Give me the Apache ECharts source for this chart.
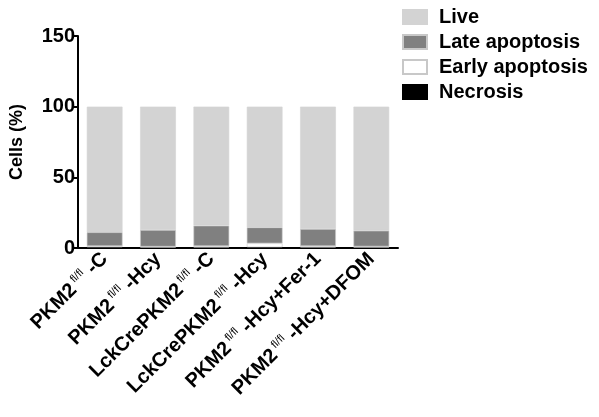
<!DOCTYPE html>
<html>
<head>
<meta charset="utf-8">
<script src="https://cdn.jsdelivr.net/npm/echarts@6/dist/echarts.min.js"></script>
<style>
  html, body { margin: 0; padding: 0; background: #fff; }
  #chart { width: 599px; height: 417px; }
</style>
</head>
<body>
<div id="chart"></div>
<script>
// groups on the x axis (the text after the superscript)
const groups = ['PKM2|-C', 'PKM2|-Hcy', 'LckCrePKM2|-C', 'LckCrePKM2|-Hcy', 'PKM2|-Hcy+Fer-1', 'PKM2|-Hcy+DFOM']
const necrosis = [0.5, 0.3, 0.4, 0.5, 0.4, 0.3]
const earlyApoptosis = [0.9, 0.7, 1.0, 2.8, 1.0, 0.8]
const lateApoptosis = [9.7, 11.7, 14.4, 11.3, 12.0, 11.1]
const live = [88.9, 87.3, 84.2, 85.4, 86.6, 87.8]
const yTicks = [0, 50, 100, 150]

const chart = echarts.init(document.getElementById('chart'))

const font = 'Liberation Sans, Arial, sans-serif'

// 堆叠柱通用样式
const barStyle = (name, data, color, border) => ({
  name: name,
  type: 'bar',
  stack: 'cells',
  data: data,
  barCategoryGap: '33%',
  itemStyle: {
    color: color,
    borderColor: border,
    borderWidth: 0.6
  }
})

chart.setOption({
  animation: false,
  textStyle: { fontFamily: font },
  grid: {
    left: 77,
    right: 201,
    top: 36,
    bottom: 169
  },
  legend: {
    data: ['Live', 'Late apoptosis', 'Early apoptosis', 'Necrosis'],
    orient: 'vertical',
    left: 397,
    top: 2,
    itemWidth: 24,
    itemHeight: 14,
    itemGap: 5,
    icon: 'rect',
    textStyle: {
      fontFamily: font,
      fontSize: 20,
      fontWeight: 'bold',
      color: '#000',
      lineHeight: 20,
      padding: [0, 0, 0, 7]
    }
  },
  xAxis: {
    type: 'category',
    data: groups,
    axisLine: { lineStyle: { color: '#000', width: 2 } },
    axisTick: {
      alignWithLabel: true,
      length: 6,
      lineStyle: { color: '#000', width: 2 }
    },
    axisLabel: {
      interval: 0,
      rotate: 45,
      margin: 8,
      formatter: v => {
        const parts = v.split('|')
        return '{b|' + parts[0] + '}{s|fl/fl}{b| ' + parts[1] + '}'
      },
      rich: {
        b: {
          fontFamily: font,
          fontSize: 20,
          fontWeight: 'bold',
          color: '#000',
          lineHeight: 22
        },
        s: {
          fontFamily: font,
          fontSize: 11,
          color: '#000',
          verticalAlign: 'top',
          padding: [0, 0, 8, 3]
        }
      }
    }
  },
  yAxis: {
    type: 'value',
    min: yTicks[0],
    max: yTicks[yTicks.length - 1],
    interval: 50,
    name: 'Cells (%)',
    nameLocation: 'middle',
    nameGap: 52,
    nameTextStyle: {
      fontFamily: font,
      fontSize: 18,
      fontWeight: 'bold',
      color: '#000'
    },
    splitLine: { show: false },
    axisLine: { show: true, lineStyle: { color: '#000', width: 2 } },
    axisTick: { show: true, length: 5, lineStyle: { color: '#000', width: 2 } },
    axisLabel: {
      margin: 3,
      fontFamily: font,
      fontSize: 20,
      fontWeight: 'bold',
      color: '#000'
    }
  },
  series: [
    barStyle('Necrosis', necrosis, '#000000', '#000000'),
    barStyle('Early apoptosis', earlyApoptosis, '#ffffff', '#c8c8c8'),
    barStyle('Late apoptosis', lateApoptosis, '#808080', '#c8c8c8'),
    barStyle('Live', live, '#d3d3d3', '#d3d3d3')
  ]
})
</script>
</body>
</html>
